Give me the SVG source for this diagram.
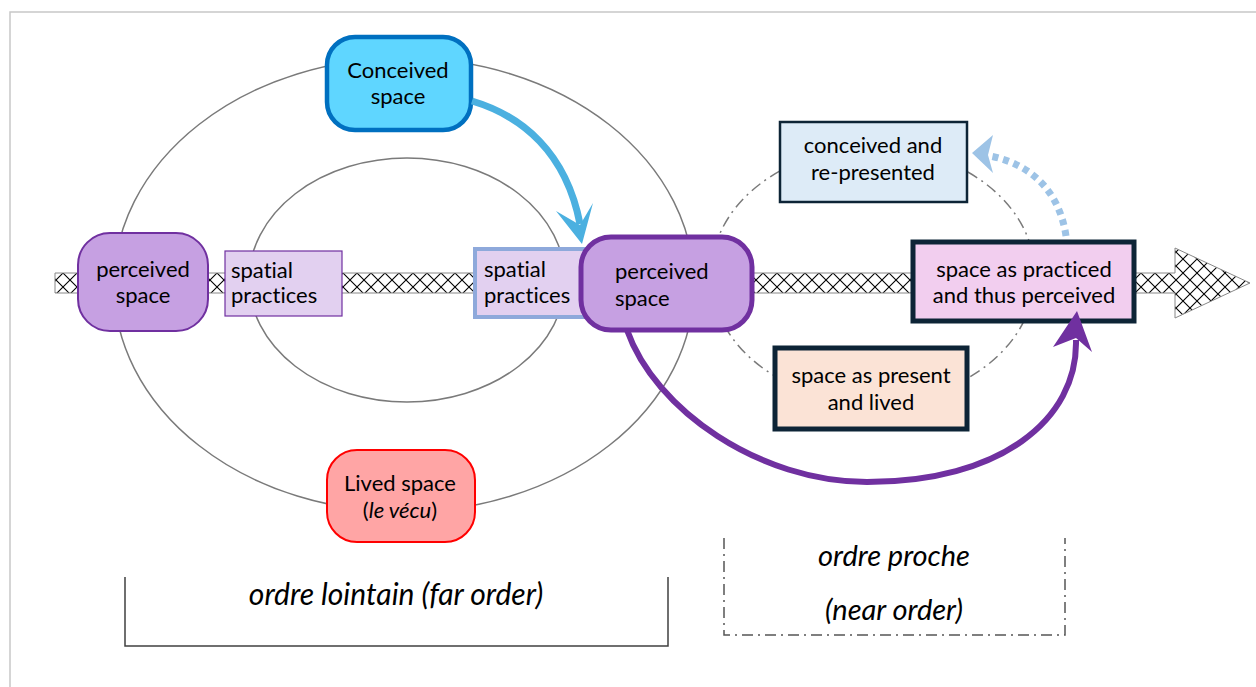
<svg xmlns="http://www.w3.org/2000/svg" width="1256" height="687" viewBox="0 0 1256 687">
<defs>
<pattern id="hatch" patternUnits="userSpaceOnUse" width="14" height="14">
<rect width="14" height="14" fill="#fff"/>
<path d="M0,0 L14,14 M14,0 L0,14" stroke="#000" stroke-width="1.1"/>
</pattern>
</defs>
<style>
text{font-family:Lato,"Open Sans","DejaVu Sans",sans-serif;font-size:22px;fill:#000;font-variant-ligatures:none}
.c{text-anchor:middle}
.it{font-style:italic}
.big{font-size:29px}
.ring{fill:none;stroke:#7a7a7a;stroke-width:1.5}
.dd{fill:none;stroke:#7a7a7a;stroke-width:1.5;stroke-dasharray:11 5 2 5}
.navy{stroke:#0D2436}
</style>
<rect x="10" y="12" width="1270" height="700" fill="#fff" stroke="#c8c8c8" stroke-width="1.5"/>

<g id="rings">
<ellipse class="ring" cx="404" cy="285" rx="290" ry="227"/>
<ellipse class="ring" cx="407" cy="280" rx="158" ry="122"/>
<ellipse class="dd" cx="873" cy="275" rx="162" ry="127"/>
</g>

<g id="axis">
<path d="M55,273 H1175 V248 L1250,283 L1175,318 V293 H55 Z" fill="url(#hatch)" stroke="#888" stroke-width="1"/>
</g>

<g id="spatial-left">
<rect x="225" y="251" width="117" height="65" fill="#E2D0F0" stroke="#7030A0" stroke-width="1.2"/>
<text x="231" y="278">spatial</text>
<text x="231" y="303">practices</text>
</g>

<g id="perceived-left">
<rect x="78" y="233" width="130" height="98" rx="32" fill="#C6A0E2" stroke="#7030A0" stroke-width="2"/>
<text class="c" x="143" y="277">perceived</text>
<text class="c" x="143" y="303">space</text>
</g>

<g id="spatial-mid">
<rect x="475" y="249" width="125" height="68" fill="#E2D0F0" stroke="#8EA9DB" stroke-width="4"/>
<text x="484" y="277">spatial</text>
<text x="484" y="303">practices</text>
</g>

<g id="perceived-mid">
<rect x="581" y="237" width="171" height="93" rx="30" fill="#C6A0E2" stroke="#7030A0" stroke-width="5"/>
<text x="615" y="279">perceived</text>
<text x="615" y="306">space</text>
</g>

<g id="conceived">
<rect x="327" y="37" width="144" height="93" rx="28" fill="#5FD6FF" stroke="#0070C0" stroke-width="4.5"/>
<text class="c" x="398" y="78">Conceived</text>
<text class="c" x="398" y="104">space</text>
</g>

<g id="lived">
<rect x="327" y="450" width="148" height="92" rx="30" fill="#FFA5A5" stroke="#FF0000" stroke-width="2"/>
<text class="c" x="400" y="491">Lived space</text>
<text class="c" x="400" y="518">(<tspan class="it">le vécu</tspan>)</text>
</g>

<g id="conceived-represented">
<rect x="780" y="122" width="187" height="80" fill="#DDEBF7" class="navy" stroke-width="2.5"/>
<text class="c" x="873" y="153">conceived and</text>
<text class="c" x="873" y="180">re-presented</text>
</g>

<g id="practiced-perceived">
<rect x="913" y="242" width="221" height="79" fill="#F2CEEF" class="navy" stroke-width="5"/>
<text class="c" x="1024" y="277">space as practiced</text>
<text class="c" x="1024" y="303">and thus perceived</text>
</g>

<g id="present-lived">
<rect x="775" y="348" width="192" height="81" fill="#FBE3D6" class="navy" stroke-width="5"/>
<text class="c" x="871" y="383">space as present</text>
<text class="c" x="871" y="410">and lived</text>
</g>

<g id="connectors">
<path d="M472,101 C522,116 566,152 580,224" fill="none" stroke="#4BB0E0" stroke-width="7"/>
<polygon points="582,244 556,211 580,225 593,203" fill="#4BB0E0"/>
<path d="M627,330 C655,410 760,482 867,482 C1000,482 1078,420 1076,340" fill="none" stroke="#7030A0" stroke-width="6"/>
<polygon points="1077,311 1092,352 1076,338 1053,347" fill="#7030A0"/>
<path d="M1066,236 C1060,195 1035,165 990,156" fill="none" stroke="#9DC3E6" stroke-width="7" stroke-dasharray="6 5"/>
<polygon points="972,153 993,135 988,155 993,173" fill="#9DC3E6"/>
</g>

<g id="far-order">
<path d="M125,577 V646 H668 V577" fill="none" stroke="#404040" stroke-width="1.5"/>
<text class="c it big" x="396" y="605" style="font-size:30px">ordre lointain (far order)</text>
</g>

<g id="near-order">
<path d="M724,538 V635 H1065 V538" fill="none" stroke="#555" stroke-width="1.5" stroke-dasharray="11 5 2 5"/>
<text class="c it big" x="894" y="566">ordre proche</text>
<text class="c it big" x="894" y="620">(near order)</text>
</g>
</svg>
